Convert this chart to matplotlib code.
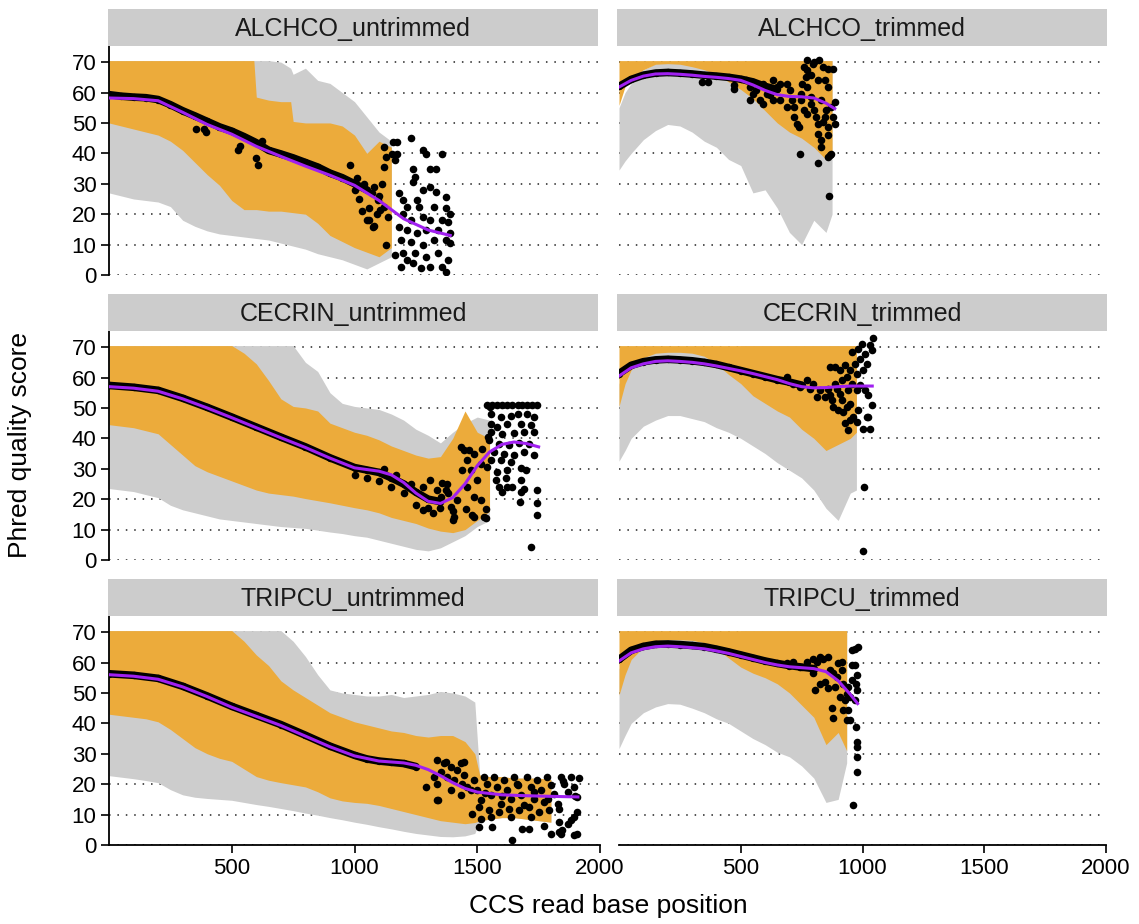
import matplotlib
matplotlib.use("Agg")
import matplotlib.pyplot as plt

plt.rcParams['font.family'] = ['Liberation Sans', 'DejaVu Sans']

# ---------------- data ----------------
titles = ["ALCHCO_untrimmed", "ALCHCO_trimmed",
          "CECRIN_untrimmed", "CECRIN_trimmed",
          "TRIPCU_untrimmed", "TRIPCU_trimmed"]

# ALCHCO untrimmed
p1_band_x = [0, 50, 100, 150, 200, 250, 300, 350, 400, 450, 500, 550, 590, 600, 650, 700, 740,
             750, 800, 850, 900, 950, 1000, 1050, 1100, 1150]
p1_gray_hi = [70.5, 70.5, 70.5, 70.5, 70.5, 70.5, 70.5, 70.5, 70.5, 70.5, 70.5, 70.5, 70.5,
              70.5, 70.5, 70, 68, 66, 68, 64, 63, 60, 57, 52, 47, 44]
p1_gray_lo = [27, 26, 25, 24.5, 24, 22.5, 18, 16, 14.5, 13.5, 13, 12.5, 12.1, 12, 11.5, 10.5,
              9.7, 9.5, 8.5, 7, 6, 5, 3.5, 2, 4, 6]
p1_or_hi = [70.5, 70.5, 70.5, 70.5, 70.5, 70.5, 70.5, 70.5, 70.5, 70.5, 70.5, 70.5, 70.5,
            58.5, 57.5, 57, 57, 50.5, 50, 50, 50, 49, 46, 40, 44, 42]
p1_or_lo = [50, 49, 48, 47, 46, 44, 41, 37, 33, 29.5, 24.5, 21.5, 21.5, 21.5, 21, 21, 20.6,
            20.5, 20, 17, 13, 11, 9, 7.5, 6, 9]
p1_mean_x = [0, 50, 100, 150, 200, 250, 300, 350, 400, 450, 500, 550, 600, 650, 700, 750,
             800, 850, 900, 950, 1000, 1050]
p1_mean_y = [59.3, 58.8, 58.5, 58.3, 57.7, 56, 54, 52.3, 50.5, 48.7, 47.3, 45.5, 43.5, 41,
             39.8, 38.5, 37, 35.5, 33.5, 32, 30, 28]
p1_smooth_x = [0, 100, 200, 300, 400, 500, 600, 700, 800, 900, 1000, 1100, 1200, 1300, 1390]
p1_smooth_y = [58.2, 58, 57.3, 53.5, 49.5, 46.3, 42.3, 39, 35.8, 32.8, 29.5, 24.5, 18.5, 14.8, 13]
p1_pts_x = [1120, 1128, 1120, 1152, 1155, 1175, 1175, 1167, 1230, 1277, 1293, 1355, 1238, 1246,
            1308, 1332, 1238, 1277, 1308, 1332, 1371, 1254, 1183, 1199, 1214, 1261, 1324, 1371,
            1387, 1199, 1230, 1277, 1308, 1355, 1379, 1183, 1214, 1254, 1293, 1340, 1387, 1191,
            1230, 1277, 1324, 1371, 1387, 1128, 1199, 1246, 1293, 1340, 1379, 1191, 1238, 1269,
            1308, 1355, 1371, 1214, 1167, 1136, 1105, 1097, 1081, 1058, 1074, 1120,
            980, 1000, 1020, 1040, 1060, 1070, 1090, 1100, 1050, 1080, 1110, 1030, 1010,
            607, 600, 526, 535, 354, 385, 395, 625]
p1_pts_y = [42.1, 38.8, 35.6, 39.9, 43.8, 43.8, 39.9, 37.7, 44.9, 41.0, 39.9, 39.9, 35.0, 32.3,
            35.0, 35.0, 30.6, 27.9, 29.0, 27.4, 25.7, 24.6, 26.8, 24.6, 22.4, 22.4, 22.4, 21.9,
            20.2, 20.2, 18.1, 19.1, 18.1, 18.1, 17.5, 15.9, 14.8, 13.7, 14.8, 14.8, 13.7, 11.5,
            10.9, 9.8, 11.5, 11.5, 10.4, 9.8, 7.1, 7.1, 6.0, 7.1, 4.9, 2.7, 3.8, 2.2,
            2.7, 2.7, 1.1, 4.9, 6.6, 19.1, 21.3, 24.6, 29.0, 18.1, 15.9, 22.4,
            36.1, 28, 25, 30, 22, 27, 20, 26, 18, 16, 30, 21, 32,
            36.1, 38.5, 41, 42.5, 48.1, 48, 47, 44]

# ALCHCO trimmed
p2_band_x = [0, 25, 50, 100, 150, 200, 250, 300, 350, 400, 450, 500, 550, 600, 650, 700, 750,
             800, 850, 875]
p2_gray_hi = [55, 60, 63, 67.5, 69.5, 70, 70, 70, 70, 70, 70, 70, 70.5, 70.5, 70.5, 70.5, 70.5,
              70.5, 70.5, 70.5]
p2_gray_lo = [34.5, 37.5, 40, 44.5, 47.5, 49.5, 49, 47, 44, 42, 38, 36, 27, 28, 22, 14, 10, 18,
              14, 20]
p2_or_hi = [70.5, 70.5, 70.5, 70.5, 70.5, 70.5, 70.5, 70.5, 70.5, 70.5, 70.5, 70.5, 70.5, 70.5,
            70.5, 70.5, 70.5, 70.5, 70.5, 70.5]
p2_or_lo = [55.8, 62, 64.5, 67.5, 69.3, 69.5, 69.3, 68.5, 67.5, 66, 63.5, 61, 58, 54, 50, 47, 45,
            42, 38, 40]
p2_mean_x = [0, 50, 100, 150, 200, 250, 300, 350, 400, 450, 500, 550, 600, 650]
p2_mean_y = [62, 64.3, 65.7, 66.4, 66.6, 66.4, 66.1, 65.7, 65.4, 65, 64.4, 63.5, 62, 61]
p2_smooth_x = [0, 50, 100, 150, 200, 250, 300, 350, 400, 450, 500, 550, 600, 650, 700, 750, 800,
               850, 886]
p2_smooth_y = [61.8, 64, 65.4, 66.1, 66.2, 66, 65.7, 65.3, 65, 64.6, 64, 62.5, 60.7, 59.3, 58.7,
               58.6, 58.2, 56.5, 54.7]
p2_pts_x = [522, 536, 536, 550, 592, 606, 592, 634, 648, 662, 690, 704, 711, 718, 718, 732, 739,
            743, 760, 767, 774, 788, 802, 816, 816, 830, 830, 819, 858, 865, 872, 858, 858, 879,
            886, 886, 872, 844, 830, 802, 823, 837, 858, 879, 844, 858, 816, 788, 774, 753, 746,
            760, 774, 788, 809, 837, 851, 861, 690, 662, 634, 620, 578, 564, 774, 798, 746,
            472, 339, 367, 472]
p2_pts_y = [64.0, 61.8, 57.4, 59.6, 62.9, 59.6, 56.3, 64.0, 61.8, 62.9, 62.9, 60.7, 57.4, 55.3,
            52.0, 49.8, 48.7, 39.9, 68.4, 65.1, 61.8, 58.5, 54.2, 49.8, 46.5, 44.3, 42.1, 36.9,
            38.8, 39.4, 39.9, 46.0, 48.7, 52.0, 49.8, 56.9, 55.3, 52.0, 57.4, 70.0, 70.6, 68.4,
            67.8, 67.8, 64.0, 61.8, 64.0, 65.6, 67.3, 62.9, 59.6, 54.2, 53.1, 56.3, 52.0, 50.3,
            54.2, 26.0, 55.3, 57.4, 57.4, 59.1, 57.4, 60.7, 70.6, 69.5, 57.4,
            61.3, 63.5, 63.5, 62.4]

# CECRIN untrimmed
p3_band_x = [0, 50, 100, 150, 200, 250, 300, 350, 400, 450, 500, 550, 600, 650, 700, 750, 800,
             850, 900, 950, 1000, 1050, 1100, 1150, 1200, 1250, 1300, 1350, 1400, 1450, 1500, 1550]
p3_gray_hi = [70.5, 70.5, 70.5, 70.5, 70.5, 70.5, 70.5, 70.5, 70.5, 70.5, 70.5, 70.5, 70.5, 70.5,
              70.5, 70.5, 65, 62, 55, 51.5, 50.5, 50, 49.5, 48, 46, 43, 41, 38.5, 42, 45, 47, 46]
p3_gray_lo = [23.5, 23, 22.5, 21.5, 20.5, 18, 16.5, 15.5, 14.5, 13.5, 13, 12.5, 12, 11.5, 11,
              10.7, 10.4, 9.8, 9.2, 8.7, 8, 7.5, 6.5, 5.5, 4.5, 3.5, 3, 4, 6, 8, 11, 13]
p3_or_hi = [70.5, 70.5, 70.5, 70.5, 70.5, 70.5, 70.5, 70.5, 70.5, 70.5, 70.5, 68, 64.5, 59, 53,
            50.5, 50, 49, 45, 43.5, 42, 41, 39.5, 37.5, 36, 34.5, 33.5, 34, 40, 49, 42, 40]
p3_or_lo = [44.5, 44, 43.5, 42.5, 41.5, 38, 34.5, 31, 29, 27.5, 26, 24.5, 23, 22, 21.5, 21, 20.2,
            19.5, 18.8, 18, 17.2, 16.5, 15.5, 14, 13, 12, 10.5, 9.5, 9, 10, 13, 16]
p3_mean_x = [0, 100, 200, 300, 400, 500, 600, 700, 800, 900, 1000, 1050, 1100, 1150, 1200, 1250,
             1300, 1350]
p3_mean_y = [57.4, 56.8, 55.8, 53.2, 50.2, 47, 43.7, 40.4, 37.2, 33.6, 30.4, 29.6, 28.8, 27,
             25, 22.3, 20, 19.2]
p3_smooth_x = [0, 100, 200, 300, 400, 500, 600, 700, 800, 900, 1000, 1100, 1150, 1200, 1250,
               1300, 1350, 1400, 1450, 1500, 1550, 1600, 1650, 1700, 1750]
p3_smooth_y = [57, 56.5, 55.5, 53, 50, 46.8, 43.5, 40.2, 37, 33.5, 30.3, 29.2, 28, 25.5, 22,
               19.3, 18.6, 20.5, 25, 31, 35.5, 38, 38.8, 38.3, 37.2]
p3_pts_x = [1541, 1562, 1582, 1602, 1623, 1643, 1664, 1684, 1704, 1725, 1742,
            1555, 1596, 1636, 1664, 1704, 1732, 1555, 1582, 1623, 1677, 1718, 1555, 1602, 1650,
            1691, 1732, 1548, 1589, 1630, 1670, 1711, 1568, 1609, 1650, 1691, 1732, 1555, 1596,
            1636, 1541, 1582, 1623, 1677, 1698, 1575, 1616, 1589, 1623, 1677, 1691, 1602, 1643,
            1677, 1674, 1742, 1742, 1745, 1718, 1528, 1534, 1514, 1487, 1460, 1500, 1473, 1439,
            1446, 1487, 1521, 1460, 1514, 1419, 1405, 1453, 1480, 1392, 1371, 1351, 1337, 1378,
            1535, 1488, 1402, 1277, 1308, 1355, 1434, 1465, 1543, 1551,
            1000, 1050, 1100, 1150, 1200, 1250, 1300, 1320, 1350, 1400, 1380, 1280, 1230, 1170,
            1120]
p3_pts_y = [51, 51, 51, 51, 51, 51, 51, 51, 51, 51, 51,
            48.1, 47.0, 47.5, 48.1, 47.9, 47.0, 44.8, 43.7, 44.8, 44.8, 44.3, 42.1, 41.5, 41.7,
            42.1, 42.1, 39.3, 38.3, 37.7, 38.5, 38.3, 35.5, 35.0, 34.4, 35.5, 34.4, 32.8, 32.8,
            32.2, 30.6, 29.0, 29.5, 30.1, 29.5, 26.2, 26.8, 24.0, 24.0, 26.2, 23.5, 22.4, 24.0,
            22.4, 19.1, 23.0, 18.8, 14.8, 4.2, 14.2, 16.9, 19.7, 20.8, 24.0, 26.2, 29.5, 29.5,
            36.1, 35.0, 36.6, 32.8, 31.7, 19.7, 14.2, 16.9, 14.8, 17.5, 23.0, 20.8, 23.0, 25.1,
            13.7, 14.2, 13.1, 16.4, 26.3, 25.2, 37.2, 36.1, 40.5, 50.3,
            28, 27, 26, 24, 22, 18, 17, 15.5, 17, 16, 22, 24, 25, 28, 30]

# CECRIN trimmed
p4_band_x = [0, 25, 50, 100, 150, 200, 250, 300, 350, 400, 450, 500, 550, 600, 650, 700, 750,
             800, 850, 900, 950, 975]
p4_gray_hi = [58, 61.5, 64, 67, 68.5, 68.7, 68.7, 68.5, 67.5, 66, 65, 70.5, 70.5, 70.5, 70.5,
              70.5, 70.5, 70.5, 70.5, 70.5, 70.5, 70.5]
p4_gray_lo = [32.5, 36, 40, 44, 46, 47.5, 47.5, 46.5, 45.5, 43.5, 42, 40, 37.5, 35, 32, 29.5, 27,
              23, 17, 13, 22, 23]
p4_or_hi = [70.5, 70.5, 70.5, 70.5, 70.5, 70.5, 70.5, 70.5, 70.5, 70.5, 70.5, 70.5, 70.5, 70.5,
            70.5, 70.5, 70.5, 70.5, 70.5, 70.5, 70.5, 70.5]
p4_or_lo = [50.5, 58, 62.5, 66.5, 68, 68.3, 68.3, 68, 67, 64.5, 61, 58, 54, 51.5, 49, 47, 43, 40,
            36, 38, 40, 42]
p4_mean_x = [0, 50, 100, 150, 200, 250, 300, 350, 400, 450, 500, 550, 600, 650, 700, 750]
p4_mean_y = [61.3, 64, 65.2, 65.8, 66, 65.8, 65.5, 65, 64.3, 63.3, 62.3, 61.3, 60.3, 59.3, 58.5,
             57.5]
p4_smooth_x = [0, 50, 100, 150, 200, 250, 300, 350, 400, 450, 500, 550, 600, 650, 700, 750, 800,
               850, 900, 950, 1040]
p4_smooth_y = [60.5, 63.2, 64.5, 65.3, 65.5, 65.3, 65, 64.5, 63.8, 63, 62.2, 61.3, 60.3, 59.3, 58,
               57, 56.6, 56.7, 57, 57.2, 57.2]
p4_pts_x = [1044, 1031, 1037, 996, 983, 1010, 990, 955, 969, 1017, 1003, 976, 948, 928, 935, 907,
            887, 866, 914, 887, 860, 955, 990, 1010, 1024, 1037, 1017, 1024, 1003, 1031, 942,
            948, 976, 921, 901, 880, 873, 914, 948, 983, 962, 935, 907, 866, 846, 825, 812, 798,
            784, 771, 743, 716, 688, 1007, 1003, 928, 976, 942, 894]
p4_pts_y = [73.1, 70.6, 68.9, 71.1, 69.5, 67.8, 66.2, 68.4, 64.6, 64.6, 62.4, 61.3, 62.4, 64.0,
            60.2, 62.4, 63.5, 63.5, 59.1, 58.0, 56.3, 58.0, 57.4, 55.8, 54.2, 50.9, 47.0, 47.0,
            43.0, 43.0, 42.7, 46.0, 45.4, 48.7, 49.2, 50.3, 52.5, 52.5, 51.4, 49.2, 47.0, 50.3,
            54.7, 54.2, 53.6, 55.8, 53.6, 58.0, 56.3, 59.1, 56.9, 58.0, 60.2, 24.1, 3.1, 44.9,
            55.8, 55.8, 56.3]

# TRIPCU untrimmed
p5_band_x = [0, 50, 100, 150, 200, 250, 300, 350, 400, 450, 500, 550, 600, 650, 700, 750, 800,
             850, 900, 950, 1000, 1050, 1100, 1150, 1200, 1250, 1300, 1350, 1400, 1450, 1490,
             1510, 1550, 1600, 1650, 1700, 1750, 1800]
p5_gray_hi = [70.5, 70.5, 70.5, 70.5, 70.5, 70.5, 70.5, 70.5, 70.5, 70.5, 70.5, 70.5, 70.5, 70.5,
              70.5, 67, 62, 56, 51, 50, 49.5, 49, 49, 49.5, 48.5, 49, 49.5, 50.5, 50, 49, 47,
              23, 22.5, 22.5, 22, 22, 22, 21.5]
p5_gray_lo = [22.8, 22.3, 21.8, 21.2, 20.5, 18.2, 16.5, 15.7, 15.3, 15, 14.7, 14, 13.3, 12.7, 12,
              11.3, 10.5, 9.8, 9, 8.3, 7.5, 6.8, 6, 5.3, 4.5, 3.8, 3.3, 2.8, 2.7, 3, 3.8,
              8, 8.5, 9, 9, 8.5, 8, 7.5]
p5_or_hi = [70.5, 70.5, 70.5, 70.5, 70.5, 70.5, 70.5, 70.5, 70.5, 70.5, 70.5, 67, 62.5, 59, 54,
            51, 48.5, 46, 43.5, 42, 40.5, 39.5, 38.5, 37.5, 37, 36, 35.5, 36, 36, 34, 30,
            23, 22.5, 22.5, 22, 22, 22, 21.5]
p5_or_lo = [43, 42.5, 42, 41.5, 40.5, 38, 35, 32, 30, 28.5, 27.5, 25, 22.5, 21.3, 20.5, 19.8,
            19.1, 17.5, 15.5, 14.5, 14, 13.7, 13, 12, 11, 10, 9, 8, 7.5, 7, 7.4,
            8, 8.5, 9, 9, 8.5, 8, 7.5]
p5_mean_x = [0, 100, 200, 300, 400, 500, 600, 700, 800, 900, 1000, 1050, 1100, 1150, 1200, 1250]
p5_mean_y = [56.3, 55.8, 54.8, 52.2, 49, 45.6, 42.6, 39.6, 36.1, 32.5, 29.5, 28.3, 27.6, 27.2,
             26.8, 25.8]
p5_smooth_x = [0, 100, 200, 300, 400, 500, 600, 700, 800, 900, 1000, 1100, 1200, 1250, 1300, 1350,
               1400, 1450, 1500, 1600, 1700, 1800, 1910]
p5_smooth_y = [56, 55.5, 54.5, 52, 48.8, 45.3, 42.3, 39.3, 35.8, 32.3, 29.3, 27.6, 27, 26.2,
               24.8, 22.8, 20.5, 18.6, 17.4, 16.5, 16.2, 16, 15.8]
p5_pts_x = [1337, 1364, 1392, 1419, 1446, 1351, 1378, 1405, 1439, 1460, 1337, 1324, 1392, 1337,
            1446, 1432, 1473, 1487, 1500, 1514, 1528, 1541, 1555, 1568, 1582, 1596, 1609, 1623,
            1636, 1650, 1664, 1677, 1691, 1704, 1718, 1732, 1745, 1759, 1772, 1786, 1800, 1813,
            1827, 1840, 1854, 1868, 1881, 1895, 1908, 1507, 1548, 1589, 1630, 1670, 1711, 1752,
            1793, 1834, 1514, 1555, 1636, 1718, 1507, 1562, 1684, 1711, 1643, 1770, 1800, 1834,
            1847, 1868, 1881, 1895, 1908, 1840, 1895, 1908, 1834, 1480, 1340, 1293, 1371, 1434,
            1530, 1600, 1660, 1730, 1790, 1850, 1900, 1915]
p5_pts_y = [27.9, 26.8, 25.7, 24.6, 27.3, 24.0, 22.4, 21.3, 20.2, 19.1, 20.2, 22.4, 18.0, 14.7,
            22.9, 16.3, 18.0, 21.3, 18.0, 14.7, 22.4, 20.2, 16.3, 22.4, 19.1, 13.6, 21.3, 18.0,
            15.2, 22.4, 19.6, 16.3, 13.0, 22.4, 19.1, 15.2, 21.3, 18.0, 14.1, 22.4, 19.6, 16.9,
            13.6, 22.4, 20.2, 17.4, 22.4, 19.1, 15.8, 12.5, 11.4, 10.9, 12.0, 11.4, 12.5, 10.9,
            11.4, 12.0, 8.7, 9.2, 9.2, 9.2, 5.9, 5.9, 5.4, 5.4, 1.5, 6.1, 3.7, 4.3,
            4.8, 7.0, 8.1, 9.2, 10.9, 3.7, 3.2, 3.7, 7.6, 10.3, 14.8, 19.1, 27.4, 26.8,
            17, 16, 20, 17.5, 15, 21, 16, 22]

# TRIPCU trimmed
p6_band_x = [0, 25, 50, 100, 150, 200, 250, 300, 350, 400, 450, 500, 550, 600, 650, 700, 750, 800,
             850, 900, 935]
p6_gray_hi = [58, 61, 63.5, 66.5, 67.5, 67.8, 67.8, 67.5, 67, 65.5, 64.5, 70.5, 70.5, 70.5, 70.5,
              70.5, 70.5, 70.5, 70.5, 70.5, 70.5]
p6_gray_lo = [31.7, 36, 40, 43.5, 45.4, 46.5, 46.3, 45, 43.5, 41.5, 40, 37.5, 35, 33, 30.5, 29,
              26, 22, 14, 15, 27]
p6_or_hi = [70.5, 70.5, 70.5, 70.5, 70.5, 70.5, 70.5, 70.5, 70.5, 70.5, 70.5, 70.5, 70.5, 70.5,
            70.5, 70.5, 70.5, 70.5, 70.5, 70.5, 70.5]
p6_or_lo = [49.3, 56, 61, 65, 67.2, 67.5, 67.5, 67.3, 66.5, 64.5, 61.5, 58.5, 56.5, 55, 53, 50,
            46, 42, 33, 37, 31]
p6_mean_x = [0, 50, 100, 150, 200, 250, 300, 350, 400, 450, 500, 550, 600, 650, 700, 750, 800]
p6_mean_y = [61, 64, 65.3, 66, 66.1, 65.9, 65.6, 65.2, 64.4, 63.5, 62.5, 61.5, 60.5, 59.7, 59,
             58.5, 58]
p6_smooth_x = [0, 50, 100, 150, 200, 250, 300, 350, 400, 450, 500, 550, 600, 650, 700, 750, 800,
               850, 900, 950, 980]
p6_smooth_y = [60.5, 63.2, 64.5, 65.2, 65.4, 65.2, 64.9, 64.5, 63.8, 63, 62, 61, 60, 59.2, 58.6,
               58.3, 58, 57, 54, 49.5, 46.5]
p6_pts_x = [955, 969, 983, 955, 969, 976, 955, 973, 976, 969, 948, 935, 942, 921, 914, 914, 901,
            894, 880, 866, 860, 839, 825, 812, 798, 805, 825, 846, 860, 887, 907, 928, 942, 921,
            935, 948, 873, 880, 973, 976, 979, 979, 976, 962, 798, 771, 743, 716, 688]
p6_pts_y = [64.1, 64.6, 65.2, 59.1, 59.1, 55.9, 54.2, 53.1, 50.9, 47.6, 48.7, 49.8, 52.0, 53.1,
            57.5, 60.2, 59.7, 55.3, 56.4, 57.5, 61.9, 61.3, 61.9, 60.2, 56.4, 50.9, 53.1, 53.7,
            51.5, 52.0, 48.7, 47.6, 44.4, 44.4, 41.1, 41.1, 44.9, 41.6, 38.9, 34.0, 32.3, 29.0,
            24.1, 13.1, 61.3, 60.2, 58.6, 60.2, 59.7]

y_ticks = [0, 10, 20, 30, 40, 50, 60, 70]
x_ticks = [500, 1000, 1500, 2000]

panels = [
    (p1_band_x, p1_gray_lo, p1_gray_hi, p1_or_lo, p1_or_hi, p1_mean_x, p1_mean_y,
     p1_smooth_x, p1_smooth_y, p1_pts_x, p1_pts_y),
    (p2_band_x, p2_gray_lo, p2_gray_hi, p2_or_lo, p2_or_hi, p2_mean_x, p2_mean_y,
     p2_smooth_x, p2_smooth_y, p2_pts_x, p2_pts_y),
    (p3_band_x, p3_gray_lo, p3_gray_hi, p3_or_lo, p3_or_hi, p3_mean_x, p3_mean_y,
     p3_smooth_x, p3_smooth_y, p3_pts_x, p3_pts_y),
    (p4_band_x, p4_gray_lo, p4_gray_hi, p4_or_lo, p4_or_hi, p4_mean_x, p4_mean_y,
     p4_smooth_x, p4_smooth_y, p4_pts_x, p4_pts_y),
    (p5_band_x, p5_gray_lo, p5_gray_hi, p5_or_lo, p5_or_hi, p5_mean_x, p5_mean_y,
     p5_smooth_x, p5_smooth_y, p5_pts_x, p5_pts_y),
    (p6_band_x, p6_gray_lo, p6_gray_hi, p6_or_lo, p6_or_hi, p6_mean_x, p6_mean_y,
     p6_smooth_x, p6_smooth_y, p6_pts_x, p6_pts_y),
]

# ---------------- layout (pixels of the 1139x924 figure) ----------------
W, H = 1139, 924
fig = plt.figure(figsize=(W / 100, H / 100), dpi=100)

col_left = [109, 619]
col_width = [491, 487]
strip_left = [108, 617]
strip_width = [490, 490]
row_top = [46, 331, 616]
panel_h = 229
strip_h = 37

gray_col = "#CDCDCD"
orange_col = "#ECAB3B"
purple_col = "#A020F0"

for i, (bx, glo, ghi, olo, ohi, mx, my, sx, sy, px, py) in enumerate(panels):
    r, c = divmod(i, 2)
    ax = fig.add_axes([col_left[c] / W, (H - row_top[r] - panel_h) / H,
                       col_width[c] / W, panel_h / H])
    ax.fill_between(bx, glo, ghi, color=gray_col, lw=0, zorder=1)
    ax.fill_between(bx, olo, ohi, color=orange_col, lw=0, zorder=2)
    ax.plot(mx, my, color="black", lw=5.5, solid_capstyle="round", zorder=3)
    ax.scatter(mx, my, s=28, color="black", lw=0, zorder=3)
    ax.scatter(px, py, s=30, color="black", lw=0, zorder=3)
    ax.plot(sx, sy, color=purple_col, lw=2.2, zorder=4)

    ax.set_xlim(0, 2000)
    ax.set_ylim(0, 75.3)
    ax.set_facecolor("white")
    for y in y_ticks:
        ax.axhline(y, color="#222222", lw=1.1, ls=(0, (1, 4.5)), zorder=0)

    for s in ["top", "right"]:
        ax.spines[s].set_visible(False)
    ax.spines["left"].set_visible(c == 0)
    ax.spines["bottom"].set_visible(r == 2)
    ax.spines["left"].set_linewidth(1.3)
    ax.spines["bottom"].set_linewidth(1.3)
    ax.tick_params(length=6, width=1.2, labelsize=16, colors="black", pad=3)
    if c == 0:
        ax.set_yticks(y_ticks)
    else:
        ax.set_yticks([])
    if r == 2:
        ax.set_xticks(x_ticks)
    else:
        ax.set_xticks([])

    sax = fig.add_axes([strip_left[c] / W, (H - row_top[r]) / H,
                        strip_width[c] / W, strip_h / H])
    sax.set_facecolor("#CCCCCC")
    sax.set_xticks([])
    sax.set_yticks([])
    for s in sax.spines.values():
        s.set_visible(False)
    sax.text(0.5, 0.47, titles[i], ha="center", va="center", fontsize=18,
             color="#1A1A1A", transform=sax.transAxes)

fig.text(608 / W, 1 - 906 / H, "CCS read base position", ha="center", va="center",
         fontsize=19)
fig.text(20 / W, 1 - 445 / H, "Phred quality score", ha="center", va="center",
         rotation=90, fontsize=19)

fig.savefig("out.png", dpi=100)
